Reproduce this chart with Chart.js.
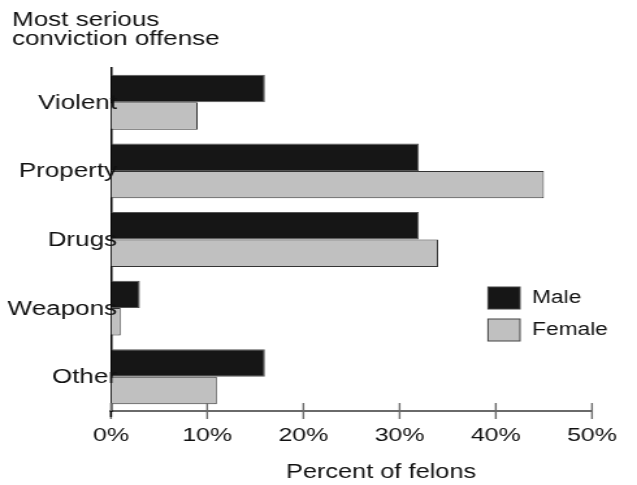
<!DOCTYPE html>
<html>
<head>
<meta charset="utf-8">
<script src="https://cdn.jsdelivr.net/npm/chart.js@4"></script>
<style>
  html, body { margin: 0; padding: 0; background: #fff; overflow: hidden; }
  /* the reference type is wide, so the whole drawing is stretched sideways */
  #wrap { width: 490px; height: 485px; transform: scaleX(1.3); transform-origin: 0 0; }
</style>
</head>
<body>
<div id="wrap"><canvas id="chart" width="490" height="485"></canvas></div>
<script>
const FONT = '"Liberation Sans", Arial, sans-serif';
const STRETCH = 1.3;

const categories = ["Violent", "Property", "Drugs", "Weapons", "Other"];
const seriesNames = ["Male", "Female"];
const maleValues = [16, 32, 32, 3, 16];
const femaleValues = [9, 45, 34, 1, 11];
const tickValues = [0, 10, 20, 30, 40, 50];

const headerLines = ["Most serious", "conviction offense"];
const xTitle = "Percent of felons";

// helper: screen x (reference pixels) -> canvas x
const sx = (x) => x / STRETCH;

/**
 * Extra drawing: category labels over the axis, header, axis title,
 * tick marks across the axis, legend
 */
const extrasPlugin = {
  id: "extras",
  afterDraw(chart) {
    const ctx = chart.ctx;
    const xs = chart.scales.x;
    const ys = chart.scales.y;
    const area = chart.chartArea;
    ctx.save();

    // tick marks that cross the x axis
    ctx.strokeStyle = "#6a6a6a";
    ctx.lineWidth = 1.4;
    for (const v of tickValues) {
      const px = xs.getPixelForValue(v);
      ctx.beginPath();
      ctx.moveTo(px, area.bottom - 8);
      ctx.lineTo(px, area.bottom + 8);
      ctx.stroke();
    }

    // y axis runs a little below the x axis
    ctx.strokeStyle = "#000";
    ctx.lineWidth = 1.5;
    ctx.beginPath();
    ctx.moveTo(area.left, area.bottom);
    ctx.lineTo(area.left, area.bottom + 6);
    ctx.stroke();

    ctx.fillStyle = "#111";

    // category labels, overlapping the axis (Chart.js would clip them)
    ctx.font = `20px ${FONT}`;
    ctx.textAlign = "right";
    ctx.textBaseline = "middle";
    chart.data.labels.forEach((lab, i) => {
      ctx.fillText(lab, sx(117), ys.getPixelForValue(i) + 1);
    });

    ctx.textBaseline = "alphabetic";

    // header over the category axis
    ctx.textAlign = "left";
    ctx.fillText(headerLines[0], sx(12), 25.5);
    ctx.fillText(headerLines[1], sx(12), 44.5);

    // x axis title
    ctx.font = `19.5px ${FONT}`;
    ctx.textAlign = "center";
    ctx.fillText(xTitle, sx(381), 478);

    // legend
    ctx.font = `17.5px ${FONT}`;
    ctx.textAlign = "left";
    ctx.textBaseline = "middle";
    chart.data.datasets.forEach((ds, i) => {
      const top = 287 + i * 32;
      ctx.fillStyle = ds.backgroundColor;
      ctx.fillRect(sx(488), top, sx(32), 22);
      ctx.strokeStyle = "#444";
      ctx.lineWidth = 1;
      ctx.strokeRect(sx(488), top, sx(32), 22);
      ctx.fillStyle = "#111";
      ctx.fillText(ds.label, sx(532), top + 11.5);
    });

    ctx.restore();
  },
};

new Chart(document.getElementById("chart"), {
  type: "bar",
  data: {
    labels: categories,
    datasets: [
      {
        label: seriesNames[0],
        data: maleValues,
        backgroundColor: "#161616",
        borderColor: "#555",
        borderWidth: 1,
        categoryPercentage: 0.8,
        barPercentage: 1.0,
      },
      {
        label: seriesNames[1],
        data: femaleValues,
        backgroundColor: "#c0c0c0",
        borderColor: "#333",
        borderWidth: 1,
        categoryPercentage: 0.8,
        barPercentage: 1.0,
      },
    ],
  },
  options: {
    indexAxis: "y",
    responsive: false,
    animation: false,
    layout: { padding: { left: 0, right: 490 - sx(592), top: 68, bottom: 0 } },
    plugins: {
      legend: { display: false },
      tooltip: { enabled: false },
    },
    scales: {
      x: {
        min: 0,
        max: 50,
        afterBuildTicks: (scale) => { scale.ticks = tickValues.map((v) => ({ value: v })); },
        afterFit: (scale) => { scale.height = 485 - 411; },
        grid: { display: false, drawTicks: false },
        border: { display: true, color: "#6a6a6a", width: 2 },
        ticks: {
          padding: 13.5,
          color: "#111",
          font: { family: FONT, size: 19.2 },
          callback: (v) => v + "%",
        },
      },
      y: {
        afterFit: (scale) => { scale.width = sx(111); },
        grid: { display: false, drawTicks: false },
        border: { display: true, color: "#000", width: 1.5 },
        ticks: { display: false },
      },
    },
  },
  plugins: [extrasPlugin],
});
</script>
</body>
</html>
